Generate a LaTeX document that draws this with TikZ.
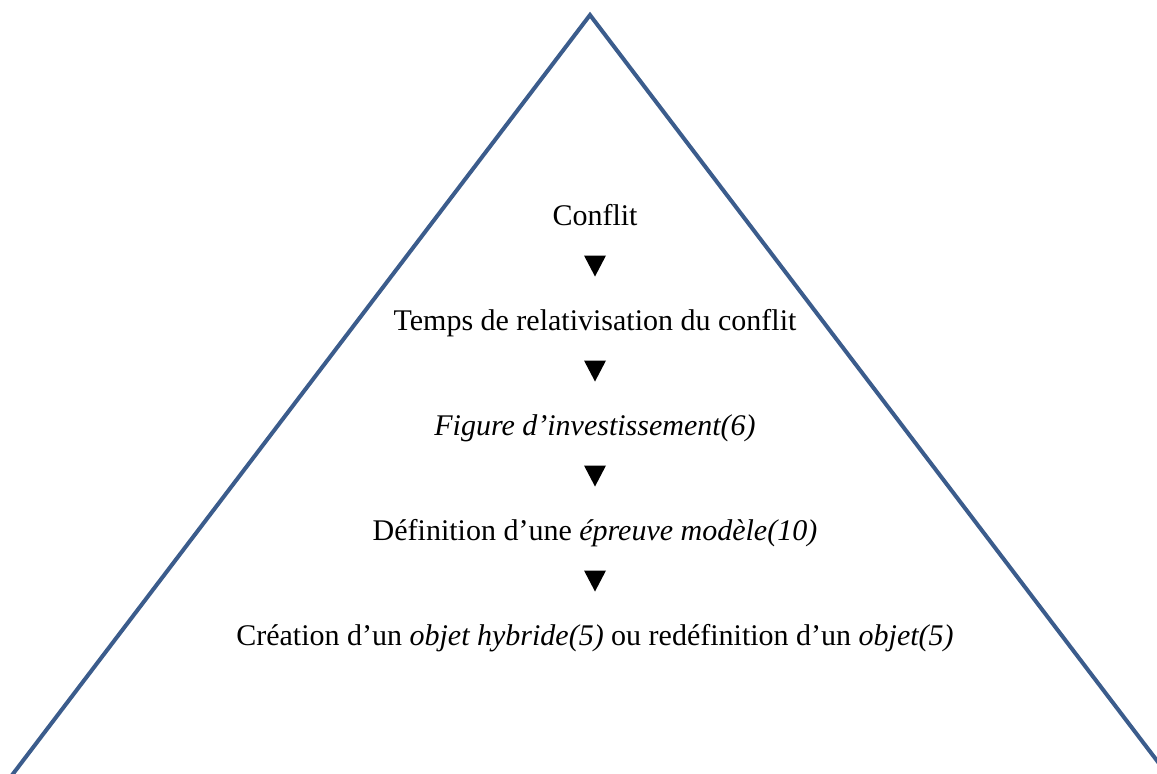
\documentclass[tikz,border=0pt]{standalone}
\usepackage{fontspec}
\setmainfont{Liberation Serif}
\definecolor{pyr}{RGB}{59,92,140}
\begin{document}
\begin{tikzpicture}[x=1pt,y=-1pt,
  lbl/.style={anchor=base,inner sep=0pt,font=\fontsize{30}{36}\selectfont},
  tri/.style={fill=black}]
\useasboundingbox (0,0) rectangle (1157,774);
\clip (0,0) rectangle (1157,774);
\coordinate (apex) at (590,15);
\coordinate (bl) at (3,787);
\coordinate (br) at (1177,787);
\draw[pyr,line width=4pt,line join=miter] (bl) -- (apex) -- (br);
\node[lbl] (n1) at (595,225) {Conflit};
\node[lbl] (n2) at (595,330) {Temps de relativisation du conflit};
\node[lbl] (n3) at (595,435) {\itshape Figure d’investissement(6)};
\node[lbl] (n4) at (595,540) {Définition d’une \textit{épreuve modèle(10)}};
\node[lbl] (n5) at (595,645) {Création d’un \textit{objet hybride(5)} ou redéfinition d’un \textit{objet(5)}};
\foreach \i/\y in {1/266,2/371,3/476,4/581}{
  \coordinate (a\i) at (595,\y);
  \fill[tri] (a\i) ++(-11,-10.5) -- ++(22,0) -- ++(-11,21) -- cycle;
}
\end{tikzpicture}
\end{document}
